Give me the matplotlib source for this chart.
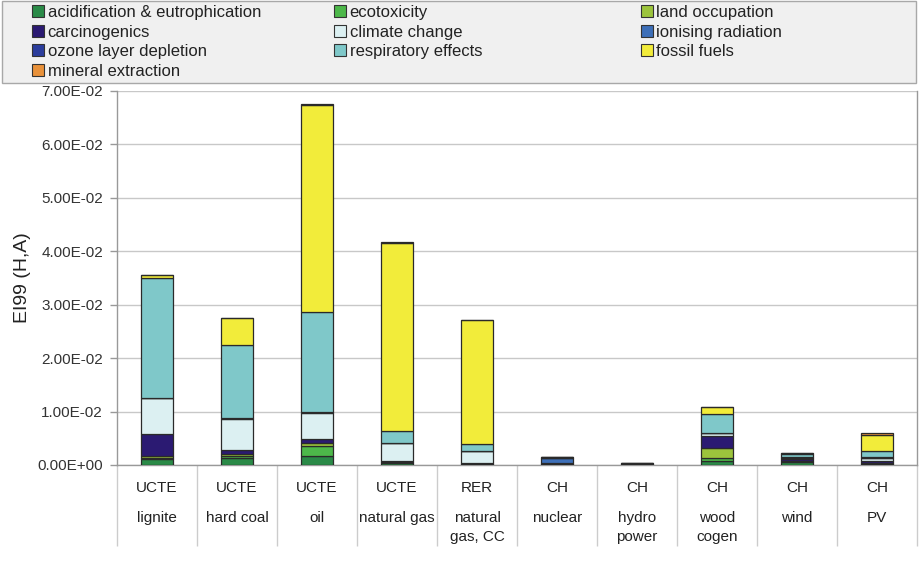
import matplotlib
matplotlib.use("Agg")
import matplotlib.pyplot as plt
from matplotlib.patches import Patch, Rectangle
from matplotlib.transforms import blended_transform_factory
import numpy as np

plt.rcParams['font.family'] = ['Liberation Sans', 'DejaVu Sans']

regions = ['UCTE', 'UCTE', 'UCTE', 'UCTE', 'RER', 'CH', 'CH', 'CH', 'CH', 'CH']
techs = ['lignite', 'hard coal', 'oil', 'natural gas', 'natural\ngas, CC',
         'nuclear', 'hydro\npower', 'wood\ncogen', 'wind', 'PV']

series_names = ['acidification & eutrophication', 'ecotoxicity', 'land occupation',
                'carcinogenics', 'climate change', 'ionising radiation',
                'ozone layer depletion', 'respiratory effects', 'fossil fuels',
                'mineral extraction']

acid     = [0.0011, 0.0013, 0.0017, 0.0003, 0.0002, 0.0001, 0.0001, 0.00075, 0.0005, 0.0002]
ecotox   = [0.0003, 0.0003, 0.0019, 0.0001, 0.00005, 0.00005, 0.00003, 0.0006, 0.0002, 0.0001]
land     = [0.0002, 0.0004, 0.0006, 0.0001, 0.00005, 0.00005, 0.00003, 0.0019, 0.0001, 0.0001]
carcin   = [0.0042, 0.0009, 0.0006, 0.0002, 0.0001, 0.0001, 0.00005, 0.0021, 0.0004, 0.0004]
climate  = [0.0067, 0.0058, 0.0050, 0.0034, 0.0022, 0.0001, 0.00003, 0.0006, 0.0002, 0.0005]
ionising = [0.0001, 0.0001, 0.0001, 0.00005, 0.00005, 0.0009, 0.00002, 0.0001, 0.0001, 0.0001]
ozone    = [0.00002, 0.00002, 0.00005, 0.00005, 0.00003, 0.00002, 0.0, 0.00002, 0.0, 0.00002]
resp     = [0.0223, 0.0137, 0.0187, 0.0022, 0.0013, 0.0001, 0.00005, 0.0034, 0.0006, 0.0012]
fossil   = [0.0006, 0.0050, 0.0388, 0.0352, 0.0232, 0.00005, 0.00003, 0.0014, 0.0001, 0.0030]
mineral  = [0.0001, 0.00005, 0.00005, 0.0001, 0.00005, 0.00002, 0.00001, 0.00005, 0.0001, 0.0003]

series = [acid, ecotox, land, carcin, climate, ionising, ozone, resp, fossil, mineral]
colors = ['#2a8a47', '#4db84a', '#9cc43c', '#2b1a72', '#dcf0f2',
          '#3d6fb8', '#2b3d9c', '#7fc8c9', '#f2ec3a', '#e8913a']

fig = plt.figure(figsize=(9.19, 5.63), dpi=100)
ax = fig.add_axes([117/919, 1 - 465/563, (917 - 117)/919, (465 - 91)/563])

x = np.arange(len(techs))
bottom = np.zeros(len(techs))
handles = []
for name, vals, col in zip(series_names, series, colors):
    v = np.array(vals)
    ax.bar(x, v, width=0.41, bottom=bottom, color=col, edgecolor='#2a2a2a',
           linewidth=0.9, zorder=3)
    bottom += v
    handles.append(Patch(facecolor=col, edgecolor='#333333', linewidth=0.8, label=name))

ax.set_xlim(-0.5, len(techs) - 0.5)
ax.set_ylim(0, 0.07)
ax.set_yticks(np.arange(0, 0.0701, 0.01))
ax.set_yticklabels(['%.2E' % t for t in np.arange(0, 0.0701, 0.01)],
                   fontsize=11, color='#333333')
ax.yaxis.grid(True, color='#c8c8c8', linewidth=1.0, zorder=0)
ax.tick_params(axis='y', length=5, color='#999999', width=1, pad=5)

ax.set_xticks(x)
ax.set_xticklabels([])
ax.set_xticks(np.arange(-0.5, len(techs)), minor=True)
ax.tick_params(axis='x', which='major', length=0)
ax.tick_params(axis='x', which='minor', length=58, color='#cccccc', width=1)

ax.spines['top'].set_visible(False)
for s in ['left', 'right', 'bottom']:
    ax.spines[s].set_color('#999999')
    ax.spines[s].set_linewidth(1.0)

trans = blended_transform_factory(ax.transData, ax.transAxes)
for i in range(len(techs)):
    ax.text(i, -23/374, regions[i], transform=trans, ha='center', va='center',
            fontsize=11, color='#222222')
    ax.text(i, -46/374, techs[i], transform=trans, ha='center', va='top',
            fontsize=11, color='#222222', linespacing=1.5)

ax.set_ylabel('EI99 (H,A)', fontsize=14, color='#222222', labelpad=5)

# legend background box
fig.patches.append(Rectangle((2/919, 1 - 83/563), 914/919, 82/563,
                             transform=fig.transFigure, facecolor='#f0f0f0',
                             edgecolor='#a8a8a8', linewidth=1.0, zorder=0))

cols = [[0, 3, 6, 9], [1, 4, 7], [2, 5, 8]]
xpos = [30/919, 332/919, 639/919]
for cidx, xp in zip(cols, xpos):
    leg = fig.legend([handles[k] for k in cidx], [series_names[k] for k in cidx],
                     loc='upper left', bbox_to_anchor=(xp, 1 - 3.5/563),
                     frameon=False, fontsize=12, handlelength=0.75, handleheight=0.75,
                     handletextpad=0.2, labelspacing=0.27, borderaxespad=0,
                     borderpad=0.1)
    for t in leg.get_texts():
        t.set_color('#222222')

fig.savefig('out.png', dpi=100)
